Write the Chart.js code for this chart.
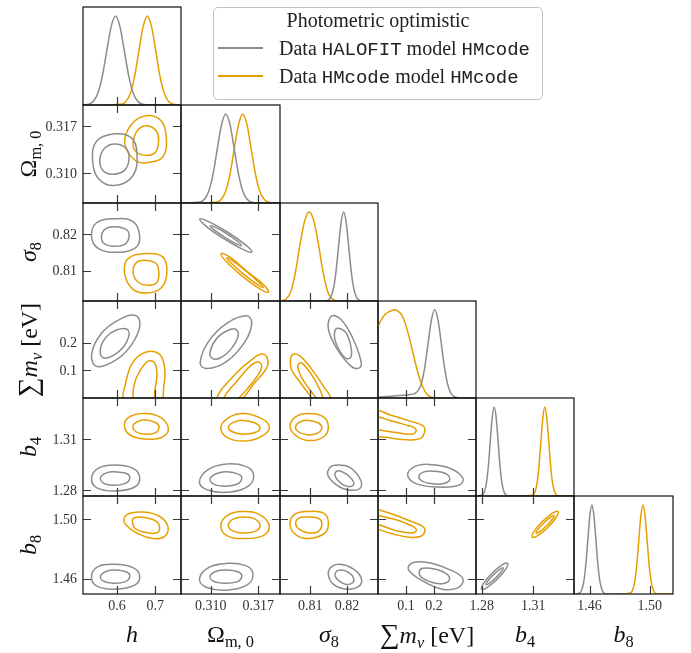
<!DOCTYPE html>
<html>
<head>
<meta charset="utf-8">
<script src="https://cdn.jsdelivr.net/npm/chart.js@4.4.0/dist/chart.umd.min.js"></script>
<style>
  html, body { margin:0; padding:0; background:#fff; }
  #wrap { position:relative; width:691px; height:653px; background:#fff; overflow:hidden; }
  #wrap canvas { position:absolute; left:0; top:0; }
  .ttl { position:absolute; font-family:"Liberation Serif","DejaVu Serif",serif; font-size:24px; color:#111; white-space:nowrap; line-height:1; }
  .ttl sub { font-size:0.68em; vertical-align:baseline; position:relative; top:0.3em; font-style:normal; }
  .ttl i { font-style:italic; }
  .big { font-size:1.15em; }
  .mono { font-family:"Liberation Mono","DejaVu Sans Mono",monospace; font-size:0.95em; }
  #legend { position:absolute; left:213px; top:7px; width:330px; height:93px; box-sizing:border-box; border:1px solid #c4c4c4; border-radius:5px; background:#fff; font-family:"Liberation Serif","DejaVu Serif",serif; font-size:20px; color:#222; }
  #legend .row { position:absolute; left:0; white-space:nowrap; line-height:1; }
  #legend .sw { position:absolute; left:4px; width:45px; height:2px; }
  #legend .tx { position:absolute; left:65px; }
</style>
</head>
<body>
<div id="wrap"></div>
<script>
// ---------------- axis limits, ticks ----------------
const H_RANGE   = [0.511, 0.767];
const OM_RANGE  = [0.3056, 0.3202];
const S8_RANGE  = [0.8017, 0.8285];
const MNU_RANGE = [0.0, 0.35];
const B4_RANGE  = [1.2767, 1.3338];
const B8_RANGE  = [1.4496, 1.5155];
const PDF_RANGE = [0, 1.1];

const H_TICKS = [0.6, 0.7];        const H_TICK_LABELS = ['0.6', '0.7'];
const OM_TICKS = [0.310, 0.317];   const OM_TICK_LABELS = ['0.310', '0.317'];
const S8_TICKS = [0.81, 0.82];     const S8_TICK_LABELS = ['0.81', '0.82'];
const MNU_TICKS = [0.1, 0.2];      const MNU_TICK_LABELS = ['0.1', '0.2'];
const B4_TICKS = [1.28, 1.31];     const B4_TICK_LABELS = ['1.28', '1.31'];
const B8_TICKS = [1.46, 1.50];     const B8_TICK_LABELS = ['1.46', '1.50'];

const SERIES_NAMES = ['Data HALOFIT model HMcode', 'Data HMcode model HMcode'];
const LEGEND_TITLE = 'Photometric optimistic';

// ---------------- 1D marginals (x, relative density) ----------------
const h_grey_1d = [[0.511,0.001],[0.527,0.011],[0.5385,0.044],[0.550,0.135],[0.5615,0.325],[0.573,0.607],[0.5845,0.88],[0.596,1],[0.6075,0.88],[0.619,0.607],[0.6305,0.325],[0.642,0.135],[0.6535,0.044],[0.665,0.011],[0.688,0],[0.767,0]];
const h_orange_1d = [[0.570,0],[0.613,0.011],[0.624,0.044],[0.635,0.135],[0.646,0.325],[0.657,0.607],[0.668,0.88],[0.679,1],[0.690,0.88],[0.701,0.607],[0.712,0.325],[0.723,0.135],[0.734,0.044],[0.745,0.011],[0.767,0]];
const om_grey_1d = [[0.3056,0],[0.30845,0.011],[0.30908,0.044],[0.3097,0.135],[0.31033,0.325],[0.31095,0.607],[0.31158,0.88],[0.3122,1],[0.31283,0.88],[0.31345,0.607],[0.31408,0.325],[0.3147,0.135],[0.31533,0.044],[0.31595,0.011],[0.3168,0],[0.3202,0]];
const om_orange_1d = [[0.3089,0],[0.31095,0.011],[0.31158,0.044],[0.3122,0.135],[0.31283,0.325],[0.31345,0.607],[0.31408,0.88],[0.3147,1],[0.31533,0.88],[0.31595,0.607],[0.31658,0.325],[0.3172,0.135],[0.31783,0.044],[0.31845,0.011],[0.3193,0],[0.3202,0]];
const s8_grey_1d = [[0.806,0],[0.8142,0.002],[0.8149,0.011],[0.8156,0.044],[0.8163,0.135],[0.8170,0.325],[0.8177,0.607],[0.8184,0.88],[0.8191,1],[0.8198,0.88],[0.8205,0.607],[0.8212,0.325],[0.8219,0.135],[0.8226,0.044],[0.8233,0.011],[0.8245,0],[0.8285,0]];
const s8_orange_1d = [[0.8017,0.001],[0.8022,0.003],[0.80345,0.025],[0.8047,0.11],[0.80595,0.33],[0.8072,0.64],[0.80845,0.9],[0.8097,1],[0.81095,0.9],[0.8122,0.64],[0.81345,0.33],[0.8147,0.11],[0.81595,0.025],[0.8172,0.003],[0.8185,0],[0.8205,0]];
const mnu_grey_1d = [[0,0.01],[0.05,0.02],[0.09,0.03],[0.115,0.04],[0.1305,0.05],[0.1425,0.08],[0.1545,0.16],[0.1665,0.34],[0.1785,0.61],[0.1905,0.88],[0.2025,1],[0.2145,0.88],[0.2265,0.607],[0.2385,0.325],[0.2505,0.135],[0.2625,0.044],[0.2745,0.011],[0.295,0.001],[0.35,0]];
const mnu_orange_1d = [[0,0.81],[0.012,0.89],[0.0233,0.942],[0.04,0.98],[0.0611,1.0],[0.075,0.975],[0.0883,0.922],[0.106,0.753],[0.1237,0.527],[0.1413,0.301],[0.159,0.131],[0.1767,0.037],[0.1943,0.007],[0.21,0],[0.235,0]];
const b4_grey_1d = [[1.2767,0.0003],[1.2804,0.011],[1.28155,0.044],[1.2827,0.135],[1.28385,0.325],[1.285,0.607],[1.28615,0.88],[1.2873,1],[1.28845,0.88],[1.2896,0.607],[1.29075,0.325],[1.2919,0.135],[1.29305,0.044],[1.2942,0.011],[1.2965,0],[1.306,0]];
const b4_orange_1d = [[1.3004,0],[1.3099,0.011],[1.31105,0.044],[1.3122,0.135],[1.31335,0.325],[1.3145,0.607],[1.31565,0.88],[1.3168,1],[1.31795,0.88],[1.3191,0.607],[1.32025,0.325],[1.3214,0.135],[1.32255,0.044],[1.3237,0.011],[1.326,0],[1.3338,0]];
const b8_grey_1d = [[1.4496,0],[1.4534,0.011],[1.45475,0.044],[1.4561,0.135],[1.45745,0.325],[1.4588,0.607],[1.46015,0.88],[1.4615,1],[1.46285,0.88],[1.4642,0.607],[1.46555,0.325],[1.4669,0.135],[1.46825,0.044],[1.4696,0.011],[1.4723,0],[1.4853,0]];
const b8_orange_1d = [[1.479,0],[1.48725,0.011],[1.48863,0.044],[1.49,0.135],[1.49138,0.325],[1.49275,0.607],[1.49413,0.88],[1.4955,1],[1.49688,0.88],[1.49825,0.607],[1.49963,0.325],[1.501,0.135],[1.50238,0.044],[1.50375,0.011],[1.5065,0],[1.5155,0]];

// ---------------- 2D contours (68% inner, 95% outer) ----------------
const h_om_grey_out = [[0.594,0.3159],[0.6375,0.3153],[0.652,0.3130],[0.6417,0.3097],[0.594,0.3082],[0.5505,0.3093],[0.536,0.3120],[0.5464,0.3148]];
const h_om_grey_in = [[0.594,0.3144],[0.6227,0.3138],[0.6313,0.3123],[0.620,0.3105],[0.5896,0.3099],[0.5635,0.3104],[0.555,0.3121],[0.568,0.3138]];
const h_om_orange_out = [[0.6766,0.3186],[0.7156,0.3178],[0.7286,0.3153],[0.7198,0.3125],[0.6766,0.3116],[0.6461,0.3120],[0.6201,0.3145],[0.6375,0.3173]];
const h_om_orange_in = [[0.6792,0.3171],[0.7026,0.3163],[0.7086,0.3150],[0.7008,0.3132],[0.6766,0.3127],[0.6505,0.3132],[0.6417,0.3145],[0.6547,0.3165]];

const h_s8_grey_out = [[0.594,0.8242],[0.6417,0.8234],[0.6591,0.8193],[0.6461,0.8161],[0.594,0.8150],[0.5505,0.8161],[0.5333,0.8193],[0.5464,0.8231]];
const h_s8_grey_in = [[0.594,0.8220],[0.6245,0.8212],[0.6313,0.8193],[0.620,0.8172],[0.5896,0.8167],[0.5654,0.8175],[0.5594,0.8196],[0.5706,0.8215]];
const h_s8_orange_out = [[0.6807,0.8147],[0.7198,0.8137],[0.7302,0.8095],[0.7156,0.8053],[0.6807,0.8039],[0.6417,0.8049],[0.620,0.8091],[0.6286,0.8133]];
const h_s8_orange_in = [[0.6766,0.8128],[0.7026,0.8119],[0.7094,0.8091],[0.7026,0.8066],[0.6807,0.8060],[0.6547,0.8069],[0.6417,0.8095],[0.6505,0.8122]];

const om_s8_grey_out = [[0.31604,0.8151],[0.31472,0.8158],[0.31191,0.81874],[0.30928,0.82218],[0.30837,0.82415],[0.30969,0.82342],[0.31249,0.8205],[0.31512,0.81703]];
const om_s8_grey_in = [[0.31451,0.81686],[0.31374,0.81731],[0.31207,0.8191],[0.3105,0.82115],[0.30993,0.82227],[0.31071,0.82182],[0.31238,0.82006],[0.31396,0.81798]];
const om_s8_orange_out = [[0.31849,0.80412],[0.31721,0.80504],[0.31463,0.80852],[0.31226,0.81252],[0.3115,0.81468],[0.31278,0.81375],[0.31537,0.80972],[0.31772,0.80627]];
const om_s8_orange_in = [[0.31774,0.80538],[0.31682,0.80625],[0.31487,0.80899],[0.31301,0.81202],[0.31235,0.8135],[0.31326,0.81263],[0.31522,0.80989],[0.31707,0.80686]];

const h_mnu_grey_out = [[0.6505,0.2964],[0.6591,0.2571],[0.6375,0.1918],[0.5984,0.1382],[0.5479,0.1132],[0.5333,0.1561],[0.5594,0.2336],[0.6115,0.2871]];
const h_mnu_grey_in = [[0.6245,0.2489],[0.6313,0.2275],[0.6156,0.1821],[0.5854,0.150],[0.562,0.1464],[0.5568,0.180],[0.5724,0.2214],[0.5984,0.2454]];
const h_mnu_orange_out = [[0.6182,-0.0046],[0.6227,0.055],[0.6375,0.1204],[0.6635,0.1586],[0.6938,0.1679],[0.7156,0.150],[0.725,0.0964],[0.7216,0.0371],[0.7164,-0.0046],[0.6677,-0.034]];
const h_mnu_orange_in = [[0.6435,-0.0046],[0.6461,0.055],[0.6591,0.0964],[0.6807,0.1321],[0.6982,0.1264],[0.7042,0.0846],[0.6982,0.025],[0.6956,-0.0046],[0.6677,-0.0286]];

const om_mnu_grey_out = [[0.3153,0.2964],[0.31603,0.2693],[0.31504,0.2036],[0.31235,0.1321],[0.30941,0.1061],[0.30843,0.1264],[0.30965,0.2036],[0.31235,0.2693]];
const om_mnu_grey_in = [[0.31357,0.2489],[0.31406,0.2275],[0.31309,0.180],[0.31137,0.1443],[0.31015,0.1443],[0.3099,0.1679],[0.31088,0.2157],[0.31235,0.2418]];
const om_mnu_orange_out = [[0.31088,-0.0046],[0.31332,0.0786],[0.31603,0.1382],[0.3175,0.1586],[0.31832,0.1443],[0.31824,0.1086],[0.31626,0.0489],[0.31456,-0.0046],[0.31259,-0.034]];
const om_mnu_orange_in = [[0.31185,-0.0046],[0.31406,0.0668],[0.31603,0.1204],[0.317,0.130],[0.3175,0.1143],[0.317,0.0846],[0.3153,0.0311],[0.31391,-0.0046],[0.31284,-0.025]];

const s8_mnu_grey_out = [[0.81582,0.2964],[0.8185,0.2811],[0.82161,0.2157],[0.82386,0.1321],[0.8234,0.1086],[0.82118,0.1143],[0.81716,0.180],[0.81491,0.2514]];
const s8_mnu_grey_in = [[0.81759,0.2514],[0.81965,0.2371],[0.82099,0.1918],[0.82118,0.150],[0.820,0.1418],[0.81823,0.1657],[0.8167,0.2096],[0.8167,0.2418]];
const s8_mnu_orange_out = [[0.81072,-0.0046],[0.80732,0.055],[0.80483,0.1025],[0.80464,0.1443],[0.80552,0.1586],[0.80732,0.150],[0.81046,0.1025],[0.81357,0.0429],[0.81555,-0.0046],[0.81314,-0.034]];
const s8_mnu_orange_in = [[0.8118,-0.0046],[0.8082,0.0607],[0.8066,0.1086],[0.80713,0.1264],[0.8082,0.1204],[0.81088,0.0729],[0.81357,-0.0046],[0.81268,-0.0286]];

const h_b4_grey_out = [[0.594,1.2947],[0.6417,1.29276],[0.6591,1.28747],[0.6461,1.28194],[0.594,1.27959],[0.5464,1.28159],[0.5333,1.28688],[0.5505,1.29276]];
const h_b4_grey_in = [[0.594,1.29076],[0.6245,1.28982],[0.6331,1.28688],[0.620,1.28394],[0.5896,1.28294],[0.5635,1.28429],[0.5568,1.28747],[0.5724,1.29018]];
const h_b4_orange_out = [[0.6677,1.3247],[0.7112,1.32276],[0.7328,1.31724],[0.7268,1.31235],[0.6938,1.30982],[0.6417,1.31135],[0.620,1.3163],[0.6286,1.32218]];
const h_b4_orange_in = [[0.6721,1.32118],[0.7026,1.31924],[0.7094,1.3163],[0.6982,1.31335],[0.6721,1.31276],[0.6487,1.31429],[0.6417,1.31765],[0.6547,1.32018]];

const om_b4_grey_out = [[0.31235,1.2953],[0.31504,1.29412],[0.31626,1.28982],[0.31568,1.28294],[0.31284,1.279],[0.30965,1.28],[0.30832,1.28488],[0.30965,1.29218]];
const om_b4_grey_in = [[0.31235,1.29076],[0.31406,1.28941],[0.31456,1.28688],[0.31382,1.28353],[0.31185,1.28235],[0.31029,1.28394],[0.3099,1.28688],[0.31088,1.28982]];
const om_b4_orange_out = [[0.31479,1.3247],[0.31725,1.32218],[0.31862,1.31765],[0.31784,1.31235],[0.31529,1.30882],[0.31259,1.31041],[0.31147,1.3163],[0.31259,1.32218]];
const om_b4_orange_in = [[0.31479,1.32076],[0.31651,1.31924],[0.31725,1.3163],[0.31651,1.31371],[0.31456,1.31276],[0.31309,1.31429],[0.31259,1.31688],[0.31332,1.31959]];

const s8_b4_grey_out = [[0.81759,1.2947],[0.82072,1.29335],[0.8234,1.28747],[0.82386,1.28194],[0.82161,1.28],[0.81804,1.28194],[0.81491,1.28824],[0.81536,1.29335]];
const s8_b4_grey_in = [[0.81786,1.29135],[0.81984,1.28941],[0.82145,1.28629],[0.8218,1.28312],[0.82027,1.28218],[0.8185,1.28394],[0.81697,1.28747],[0.81678,1.29018]];
const s8_b4_orange_out = [[0.80954,1.3247],[0.81357,1.32276],[0.81491,1.31724],[0.81375,1.31135],[0.81,1.309],[0.80643,1.31135],[0.80445,1.31688],[0.80598,1.32276]];
const s8_b4_orange_in = [[0.80954,1.32076],[0.81223,1.31924],[0.81314,1.3163],[0.81196,1.31335],[0.80912,1.31235],[0.8066,1.31429],[0.80598,1.31724],[0.80732,1.32]];

const mnu_b4_grey_out = [[0.1823,1.29512],[0.259,1.29276],[0.3039,1.28688],[0.2883,1.28294],[0.212,1.28194],[0.1353,1.28394],[0.106,1.28882],[0.1293,1.2937]];
const mnu_b4_grey_in = [[0.1943,1.29118],[0.2413,1.28982],[0.2565,1.28647],[0.2353,1.28394],[0.1883,1.28394],[0.153,1.28588],[0.147,1.28882],[0.1647,1.29076]];
const mnu_b4_orange_out = [[-0.0237,1.32706],[0.047,1.3237],[0.1177,1.32018],[0.159,1.31782],[0.1671,1.31488],[0.153,1.31041],[0.106,1.30941],[0.0353,1.31076],[-0.0237,1.31235],[-0.059,1.31924]];
const mnu_b4_orange_in = [[-0.0237,1.32312],[0.047,1.32059],[0.106,1.31782],[0.1318,1.31629],[0.1353,1.31429],[0.1237,1.31276],[0.0707,1.31353],[0,1.31529],[-0.0237,1.31588],[-0.0473,1.31924]];

const h_b8_grey_out = [[0.594,1.46953],[0.6417,1.46733],[0.6591,1.46173],[0.6461,1.45553],[0.594,1.45287],[0.5464,1.45507],[0.5333,1.46173],[0.5505,1.468]];
const h_b8_grey_in = [[0.594,1.46573],[0.6245,1.4644],[0.6331,1.46133],[0.620,1.45773],[0.5896,1.45687],[0.5635,1.4584],[0.5568,1.46173],[0.5724,1.46487]];
const h_b8_orange_out = [[0.6245,1.50287],[0.6677,1.50467],[0.7112,1.50173],[0.7328,1.49507],[0.7242,1.4884],[0.6938,1.48687],[0.6547,1.4902],[0.620,1.49733]];
const h_b8_orange_in = [[0.6435,1.50067],[0.6721,1.50107],[0.7026,1.4984],[0.7112,1.494],[0.7026,1.49067],[0.6721,1.49107],[0.6461,1.494],[0.6401,1.4984]];

const om_b8_grey_out = [[0.31235,1.4702],[0.31504,1.46887],[0.31618,1.464],[0.31553,1.4562],[0.31235,1.4522],[0.30941,1.454],[0.30832,1.45953],[0.30965,1.46733]];
const om_b8_grey_in = [[0.31235,1.46573],[0.31406,1.4644],[0.31456,1.46133],[0.31382,1.45773],[0.31185,1.45687],[0.31029,1.4584],[0.3099,1.46173],[0.31078,1.46487]];
const om_b8_orange_out = [[0.31456,1.50507],[0.317,1.50353],[0.31862,1.49553],[0.31774,1.48887],[0.31479,1.48687],[0.31235,1.48887],[0.31147,1.4962],[0.31259,1.50287]];
const om_b8_orange_in = [[0.31479,1.50133],[0.31651,1.5],[0.31725,1.49553],[0.31651,1.49173],[0.31456,1.49067],[0.31309,1.4924],[0.31259,1.4962],[0.31332,1.5]];

const s8_b8_grey_out = [[0.81804,1.46953],[0.82161,1.46667],[0.82386,1.46067],[0.8234,1.45507],[0.81984,1.45287],[0.81625,1.4562],[0.81491,1.46287],[0.81582,1.468]];
const s8_b8_grey_in = [[0.8185,1.46573],[0.82054,1.464],[0.8218,1.4604],[0.82161,1.45733],[0.81984,1.456],[0.81786,1.4584],[0.81678,1.46173],[0.81716,1.46487]];
const s8_b8_orange_out = [[0.80954,1.50507],[0.81357,1.504],[0.81491,1.4984],[0.81402,1.49067],[0.80954,1.48687],[0.80598,1.48953],[0.80445,1.4962],[0.80552,1.50287]];
const s8_b8_orange_in = [[0.80912,1.50133],[0.81196,1.50067],[0.81314,1.49733],[0.81223,1.49173],[0.80954,1.49067],[0.80713,1.49287],[0.80598,1.49687],[0.80686,1.50067]];

const mnu_b8_grey_out = [[0.1237,1.47067],[0.1823,1.47067],[0.253,1.4662],[0.3025,1.4602],[0.2883,1.454],[0.2297,1.45287],[0.159,1.4584],[0.1081,1.4662]];
const mnu_b8_grey_in = [[0.159,1.46687],[0.206,1.4662],[0.2438,1.46333],[0.2555,1.4595],[0.2353,1.45667],[0.1943,1.45733],[0.1565,1.46067],[0.147,1.464]];
const mnu_b8_orange_out = [[-0.0413,1.50953],[0.0035,1.5062],[0.0647,1.5024],[0.1237,1.498],[0.159,1.49507],[0.1682,1.4922],[0.153,1.4884],[0.1117,1.48773],[0.053,1.49],[0.0035,1.49287],[-0.0413,1.4962]];
const mnu_b8_orange_in = [[-0.0297,1.50507],[0.0035,1.5024],[0.0647,1.49953],[0.1117,1.4962],[0.1329,1.494],[0.1353,1.49173],[0.1177,1.49067],[0.0647,1.4922],[0.0035,1.4962],[-0.0297,1.498]];

const b4_b8_grey_out = [[1.29506,1.4702],[1.29401,1.46633],[1.28919,1.45967],[1.28337,1.45407],[1.28,1.45287],[1.28105,1.45673],[1.28587,1.4634],[1.29169,1.469]];
const b4_b8_grey_in = [[1.2925,1.4672],[1.29163,1.46487],[1.28837,1.4606],[1.28465,1.45687],[1.28262,1.45587],[1.28349,1.4582],[1.28674,1.46247],[1.29047,1.4662]];
const b4_b8_orange_out = [[1.32453,1.50507],[1.32349,1.5012],[1.31866,1.49453],[1.31285,1.489],[1.30948,1.4878],[1.31052,1.49167],[1.31535,1.49833],[1.32116,1.50387]];
const b4_b8_orange_in = [[1.32221,1.5024],[1.32128,1.5],[1.31779,1.49547],[1.3139,1.49153],[1.3118,1.49047],[1.31273,1.49287],[1.31616,1.49733],[1.32012,1.50133]];

// ---------------- tables built from the arrays above ----------------
const RANGES = [H_RANGE, OM_RANGE, S8_RANGE, MNU_RANGE, B4_RANGE, B8_RANGE];
const TICKS = [H_TICKS, OM_TICKS, S8_TICKS, MNU_TICKS, B4_TICKS, B8_TICKS];
const TICK_LABELS = [H_TICK_LABELS, OM_TICK_LABELS, S8_TICK_LABELS, MNU_TICK_LABELS, B4_TICK_LABELS, B8_TICK_LABELS];
const ONE_D = [
  [h_grey_1d, h_orange_1d], [om_grey_1d, om_orange_1d], [s8_grey_1d, s8_orange_1d],
  [mnu_grey_1d, mnu_orange_1d], [b4_grey_1d, b4_orange_1d], [b8_grey_1d, b8_orange_1d]
];
const TWO_D = {
  '1,0': [h_om_grey_out, h_om_grey_in, h_om_orange_out, h_om_orange_in],
  '2,0': [h_s8_grey_out, h_s8_grey_in, h_s8_orange_out, h_s8_orange_in],
  '2,1': [om_s8_grey_out, om_s8_grey_in, om_s8_orange_out, om_s8_orange_in],
  '3,0': [h_mnu_grey_out, h_mnu_grey_in, h_mnu_orange_out, h_mnu_orange_in],
  '3,1': [om_mnu_grey_out, om_mnu_grey_in, om_mnu_orange_out, om_mnu_orange_in],
  '3,2': [s8_mnu_grey_out, s8_mnu_grey_in, s8_mnu_orange_out, s8_mnu_orange_in],
  '4,0': [h_b4_grey_out, h_b4_grey_in, h_b4_orange_out, h_b4_orange_in],
  '4,1': [om_b4_grey_out, om_b4_grey_in, om_b4_orange_out, om_b4_orange_in],
  '4,2': [s8_b4_grey_out, s8_b4_grey_in, s8_b4_orange_out, s8_b4_orange_in],
  '4,3': [mnu_b4_grey_out, mnu_b4_grey_in, mnu_b4_orange_out, mnu_b4_orange_in],
  '5,0': [h_b8_grey_out, h_b8_grey_in, h_b8_orange_out, h_b8_orange_in],
  '5,1': [om_b8_grey_out, om_b8_grey_in, om_b8_orange_out, om_b8_orange_in],
  '5,2': [s8_b8_grey_out, s8_b8_grey_in, s8_b8_orange_out, s8_b8_orange_in],
  '5,3': [mnu_b8_grey_out, mnu_b8_grey_in, mnu_b8_orange_out, mnu_b8_orange_in],
  '5,4': [b4_b8_grey_out, b4_b8_grey_in, b4_b8_orange_out, b4_b8_orange_in]
};

// ---------------- layout & style ----------------
const W = 691, Hh = 653;
const XS = [83, 181, 280, 378, 476, 574, 673];
const YS = [7, 105, 203, 301, 398, 496, 594];
const GREY = '#8c8c8c', ORANGE = '#e69f00';
const COLORS = [GREY, GREY, ORANGE, ORANGE];
const LW = 1.5;
const TICK_FONT = '14px "Liberation Serif", "DejaVu Serif", serif';

function toXY(a) { return a.map(p => ({x: p[0], y: p[1]})); }

function closedDataset(pts, color) {
  const n = pts.length;
  const seq = [pts[n-1], ...pts, pts[0], pts[1]];
  const N = seq.length;
  return {
    data: toXY(seq), showLine: true, borderColor: color, borderWidth: LW,
    pointRadius: 0, tension: 0.4, fill: false, capBezierPoints: false,
    segment: {
      borderColor: ctx => (ctx.p0DataIndex === 0 || ctx.p1DataIndex === N - 1) ? 'rgba(0,0,0,0)' : color
    }
  };
}
function pdfDataset(pts, color) {
  return {
    data: toXY(pts), showLine: true, borderColor: color, borderWidth: LW,
    pointRadius: 0, cubicInterpolationMode: 'monotone', fill: false, capBezierPoints: false
  };
}

function framePlugin(r, c, is1D) {
  return {
    id: 'frame_' + r + '_' + c,
    afterDraw(chart) {
      const ctx = chart.ctx, a = chart.chartArea, sx = chart.scales.x, sy = chart.scales.y;
      ctx.save();
      ctx.strokeStyle = '#3a3a3a';
      ctx.lineWidth = 1.2;
      ctx.beginPath();
      TICKS[c].forEach(v => {
        const px = Math.round(sx.getPixelForValue(v)) + 0.5;
        ctx.moveTo(px, a.bottom); ctx.lineTo(px, a.bottom - 8);
        if (!is1D) { ctx.moveTo(px, a.top); ctx.lineTo(px, a.top + 8); }
      });
      if (!is1D) {
        TICKS[r].forEach(v => {
          const py = Math.round(sy.getPixelForValue(v)) + 0.5;
          ctx.moveTo(a.left, py); ctx.lineTo(a.left + 8, py);
          ctx.moveTo(a.right, py); ctx.lineTo(a.right - 8, py);
        });
      }
      ctx.stroke();
      ctx.strokeStyle = '#111';
      ctx.lineWidth = 1.2;
      ctx.strokeRect(a.left, a.top, a.right - a.left, a.bottom - a.top);
      ctx.fillStyle = '#333';
      ctx.font = TICK_FONT;
      if (r === 5) {
        ctx.textAlign = 'center'; ctx.textBaseline = 'top';
        TICKS[c].forEach((v, k) => ctx.fillText(TICK_LABELS[c][k], sx.getPixelForValue(v), a.bottom + 5));
      }
      if (c === 0 && !is1D) {
        ctx.textAlign = 'right'; ctx.textBaseline = 'middle';
        TICKS[r].forEach((v, k) => ctx.fillText(TICK_LABELS[r][k], a.left - 6, sy.getPixelForValue(v) + 1));
      }
      ctx.restore();
    }
  };
}

const wrap = document.getElementById('wrap');
for (let r = 0; r < 6; r++) {
  for (let c = 0; c <= r; c++) {
    const is1D = (r === c);
    const cv = document.createElement('canvas');
    cv.width = W; cv.height = Hh;
    wrap.appendChild(cv);
    let datasets;
    if (is1D) {
      datasets = [pdfDataset(ONE_D[c][0], GREY), pdfDataset(ONE_D[c][1], ORANGE)];
    } else {
      datasets = TWO_D[r + ',' + c].map((pts, k) => closedDataset(pts, COLORS[k]));
    }
    const yr = is1D ? PDF_RANGE : RANGES[r];
    new Chart(cv, {
      type: 'scatter',
      data: { datasets },
      options: {
        responsive: false, animation: false, events: [], devicePixelRatio: 1,
        layout: { padding: { left: XS[c], top: YS[r], right: W - XS[c+1], bottom: Hh - YS[r+1] } },
        plugins: { legend: { display: false }, tooltip: { enabled: false } },
        scales: {
          x: { type: 'linear', display: false, min: RANGES[c][0], max: RANGES[c][1] },
          y: { type: 'linear', display: false, min: yr[0], max: yr[1] }
        }
      },
      plugins: [framePlugin(r, c, is1D)]
    });
  }
}

// ---------------- axis titles ----------------
const TITLES = [
  '<i>h</i>',
  '&Omega;<sub>m, 0</sub>',
  '<i>&sigma;</i><sub>8</sub>',
  '<span class="big">&sum;</span><i>m</i><sub><i>&nu;</i></sub> [eV]',
  '<i>b</i><sub>4</sub>',
  '<i>b</i><sub>8</sub>'
];
for (let c = 0; c < 6; c++) {
  const d = document.createElement('div');
  d.className = 'ttl';
  d.innerHTML = TITLES[c];
  d.style.left = ((XS[c] + XS[c+1]) / 2) + 'px';
  d.style.top = '634px';
  d.style.transform = 'translate(-50%, -50%)';
  wrap.appendChild(d);
}
for (let r = 1; r < 6; r++) {
  const d = document.createElement('div');
  d.className = 'ttl';
  d.innerHTML = TITLES[r];
  d.style.left = '28px';
  d.style.top = ((YS[r] + YS[r+1]) / 2) + 'px';
  d.style.transform = 'translate(-50%, -50%) rotate(-90deg)';
  wrap.appendChild(d);
}

// ---------------- legend ----------------
const lg = document.createElement('div');
lg.id = 'legend';
function fmtName(s) {
  return s.replace(/(HALOFIT|HMcode)/g, '<span class="mono">$1</span>');
}
lg.innerHTML =
  '<div class="row" style="left:0;right:0;top:2px;text-align:center;">' + LEGEND_TITLE + '</div>' +
  '<div class="sw" style="top:39px;background:' + GREY + '"></div>' +
  '<div class="row tx" style="top:30px;">' + fmtName(SERIES_NAMES[0]) + '</div>' +
  '<div class="sw" style="top:67px;background:' + ORANGE + '"></div>' +
  '<div class="row tx" style="top:58px;">' + fmtName(SERIES_NAMES[1]) + '</div>';
wrap.appendChild(lg);
</script>
</body>
</html>
